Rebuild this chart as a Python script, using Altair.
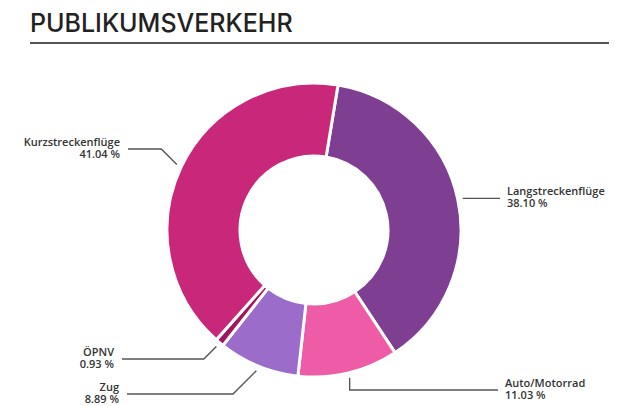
import math
import altair as alt
import pandas as pd

# ---- data ----
names = ["Langstreckenflüge", "Auto/Motorrad", "Zug", "ÖPNV", "Kurzstreckenflüge"]
values = [38.10, 11.03, 8.89, 0.93, 41.04]
colors = ["#7E3E92", "#EE5BA6", "#9B6CC9", "#A0155F", "#C9287A"]
title_text = "PUBLIKUMSVERKEHR"

# ---- layout (plot coordinates) ----
W, H = 601, 398
CX, CY = 306, 222
R_OUT, R_IN = 147, 74
START = math.radians(9.4)
# per label: y of horizontal leader, x where leader ends, side of text, elbow type
line_y = [190, 382, 386, 351, 141]
line_end = [492, 490, 119, 114, 120]
side = ["right", "right", "left", "left", "left"]
elbow = ["flat", "vertical", "diag", "diag", "diag"]

slices = pd.DataFrame({"name": names, "value": values, "order": list(range(len(names)))})

total = sum(values)
line_rows, text_rows = [], []
cum = 0.0
for i, (n, v) in enumerate(zip(names, values)):
    mid = START + 2 * math.pi * (cum + v / 2) / total
    cum += v
    r = R_OUT + 5
    sx = CX + r * math.sin(mid)
    sy = CY - r * math.cos(mid)
    ly = line_y[i] if elbow[i] != "flat" else sy
    if elbow[i] == "vertical":
        ex = sx
    elif elbow[i] == "diag":
        ex = sx - abs(ly - sy) if side[i] == "left" else sx + abs(ly - sy)
    else:
        ex = sx
    pts = [(sx, sy), (ex, ly), (line_end[i], ly)]
    for k, (px, py) in enumerate(pts):
        line_rows.append({"name": n, "k": k, "x": px, "y": py})
    tx = line_end[i] + 7 if side[i] == "right" else line_end[i] - 8
    text_rows.append({"name": n, "x": tx, "y": ly, "side": side[i],
                      "label": f"{n}\n{v:.2f} %"})

lines = pd.DataFrame(line_rows)
texts = pd.DataFrame(text_rows)

xs = alt.Scale(domain=[0, W], nice=False, zero=False)
ys = alt.Scale(domain=[0, H], nice=False, zero=False, reverse=True)

donut = alt.Chart(slices).mark_arc(
    outerRadius=R_OUT, innerRadius=R_IN, stroke="white", strokeWidth=3
).encode(
    theta=alt.Theta("value:Q", stack=True, scale=alt.Scale(range=[START, START + 2 * math.pi])),
    order=alt.Order("order:Q"),
    color=alt.Color("name:N", scale=alt.Scale(domain=names, range=colors), legend=None),
    x=alt.value(CX),
    y=alt.value(CY),
)

leaders = alt.Chart(lines).mark_line(color="#555555", strokeWidth=1.4).encode(
    x=alt.X("x:Q", scale=xs, axis=None),
    y=alt.Y("y:Q", scale=ys, axis=None),
    detail="name:N",
    order="k:Q",
)

def label_layer(s, align):
    return alt.Chart(texts).transform_filter(alt.datum.side == s).mark_text(
        align=align, baseline="middle", fontSize=11, fontWeight=600,
        font="Open Sans", color="#333333", lineBreak="\n", lineHeight=12, dy=-6
    ).encode(
        x=alt.X("x:Q", scale=xs, axis=None),
        y=alt.Y("y:Q", scale=ys, axis=None),
        text="label:N",
    )

title_df = pd.DataFrame({"t": [title_text], "x": [22], "y": [24]})
title = alt.Chart(title_df).mark_text(
    align="left", baseline="alphabetic", fontSize=25, font="Inter",
    fontWeight=500, color="#222222"
).encode(
    x=alt.X("x:Q", scale=xs, axis=None),
    y=alt.Y("y:Q", scale=ys, axis=None),
    text="t:N",
)

rule_df = pd.DataFrame({"x": [22], "x2": [W], "y": [35]})
rule = alt.Chart(rule_df).mark_rule(color="#555555", strokeWidth=2).encode(
    x=alt.X("x:Q", scale=xs, axis=None),
    x2="x2:Q",
    y=alt.Y("y:Q", scale=ys, axis=None),
)

chart = alt.layer(
    donut, leaders, label_layer("right", "left"), label_layer("left", "right"), title, rule
).properties(width=W, height=H, padding=0, autosize=alt.AutoSizeParams(type="none")
).configure_view(stroke=None)

chart.save("out.html", embed_options={"renderer": "svg", "actions": False})
